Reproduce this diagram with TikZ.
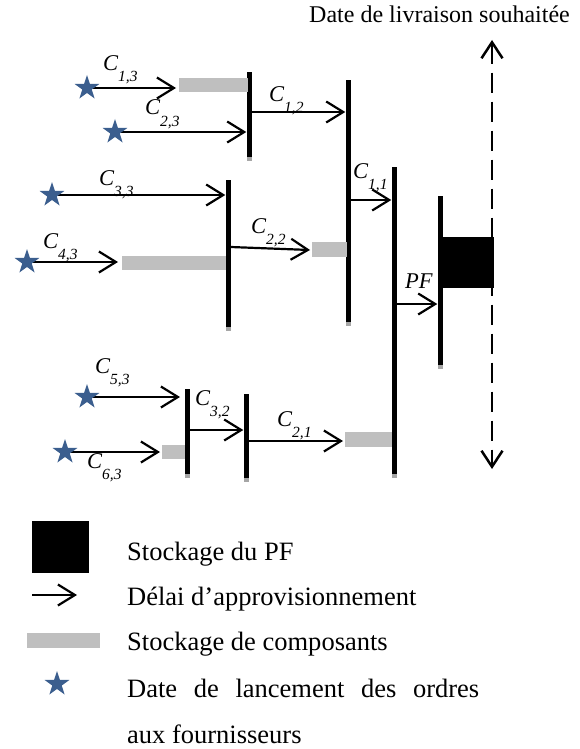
\documentclass[tikz,border=0pt]{standalone}
\usepackage{fontspec}
\setmainfont{Liberation Serif}
\usetikzlibrary{arrows.meta,shapes.geometric}
\definecolor{starblue}{HTML}{3B5E8E}
\definecolor{stockgray}{HTML}{BFBFBF}
\definecolor{tipgray}{HTML}{A6A6A6}
\newcommand{\clab}[1]{{\fontsize{22.5}{22}\selectfont\itshape C\raisebox{-11pt}{\fontsize{15.5}{15}\selectfont #1}}}
\newcommand{\vbarnode}[4]{%
  \node[barnode, minimum height={#4-#3}] (#1) at (#2,{(#3+#4)/2}) {};
  \fill[tipgray] (#2-2.5,#4) rectangle (#2+2.5,#4+3.5);}
\begin{document}
\begin{tikzpicture}[x=1pt,y=-1pt,
  arr/.style={line width=2.2pt,-{Straight Barb[length=17pt,width=21pt]}},
  barnode/.style={rectangle, fill=black, draw=none, inner sep=0pt, minimum width=5pt},
  stock/.style={rectangle, fill=stockgray, draw=none, inner sep=0pt},
  pfbox/.style={rectangle, fill=black, draw=none, inner sep=0pt},
  starnode/.style={star, star points=5, star point ratio=2.618, fill=starblue, draw=none, inner sep=0pt, minimum size=26pt},
  lab/.style={anchor=base west, inner sep=0pt},
  legtext/.style={anchor=base west, inner sep=0pt, font=\fontsize{26.5}{30}\selectfont},
  deadline/.style={line width=2.5pt, dash pattern=on 20pt off 9pt, {Straight Barb[length=16pt,width=21pt]}-{Straight Barb[length=16pt,width=21pt]}}
]
\useasboundingbox (0,0) rectangle (579,749);

% vertical bars
\vbarnode{b1}{249}{72}{157}
\vbarnode{b2}{348}{80}{322}
\vbarnode{b3}{394}{167}{474}
\vbarnode{b4}{440}{196}{365}
\vbarnode{b5}{228}{180}{327}
\vbarnode{b6}{187}{389}{474}
\vbarnode{b7}{246}{394}{478}

% component stocks
\node[stock, minimum width=69pt, minimum height=14pt] (g13) at (213.5,85) {};
\node[stock, minimum width=104pt, minimum height=14pt] (g43) at (174,263) {};
\node[stock, minimum width=35pt, minimum height=15pt] (g22) at (329.5,249.5) {};
\node[stock, minimum width=47pt, minimum height=15pt] (g21) at (368.5,439.5) {};
\node[stock, minimum width=23pt, minimum height=14pt] (g63) at (173.5,452) {};
% finished product stock
\node[pfbox, minimum width=52pt, minimum height=51pt] (pfs) at (468,262.5) {};

% level coordinates
\coordinate (e13) at (176,88);
\coordinate (y12) at (0,112);
\coordinate (y11) at (0,200);
\coordinate (e43) at (118,262);
\coordinate (y22) at (0,247);
\coordinate (e22) at (310,250);
\coordinate (yPF) at (0,304);
\coordinate (y21) at (0,441);
\coordinate (e21) at (343,441);
\coordinate (e53) at (180,397);
\coordinate (e63) at (160,452);
\coordinate (y32) at (0,430);
\coordinate (dtop) at (492,40);
\coordinate (dbot) at (492,469);

% stars (positions)
\coordinate (p13) at (87,88);
\coordinate (p23) at (115,132);
\coordinate (p33) at (52,195);
\coordinate (p43) at (27,262);
\coordinate (p53) at (87,397);
\coordinate (p63) at (65,452);

% arrows
\draw[arr] (p13) -- (e13);
\draw[arr] (p23) -- (b1.west |- p23);
\draw[arr] (b1.east |- y12) -- (b2.west |- y12);
\draw[arr] (b2.east |- y11) -- (b3.west |- y11);
\draw[arr] (p33) -- (b5.west |- p33);
\draw[arr] (p43) -- (e43);
\draw[arr] (b5.east |- y22) -- (e22);
\draw[arr] (b3.east |- yPF) -- (b4.west |- yPF);
\draw[arr] (b7.east |- y21) -- (e21);
\draw[arr] (p53) -- (e53);
\draw[arr] (p63) -- (e63);
\draw[arr] (b6.east |- y32) -- (b7.west |- y32);
\draw[deadline] (dtop) -- (dbot);

% stars
\node[starnode] (s13) at (p13) {};
\node[starnode] (s23) at (p23) {};
\node[starnode] (s33) at (p33) {};
\node[starnode] (s43) at (p43) {};
\node[starnode] (s53) at (p53) {};
\node[starnode] (s63) at (p63) {};

% labels
\node[lab] (l13) at (103,71) {\clab{1,3}};
\node[lab] (l23) at (145,115) {\clab{2,3}};
\node[lab] (l12) at (269,102) {\clab{1,2}};
\node[lab] (l33) at (99,185) {\clab{3,3}};
\node[lab] (l43) at (43,248) {\clab{4,3}};
\node[lab] (l22) at (251,233) {\clab{2,2}};
\node[lab] (l11) at (353,178) {\clab{1,1}};
\node[lab] (lpf) at (405,288) {\fontsize{22.5}{22}\selectfont\itshape PF};
\node[lab] (l53) at (95,373) {\clab{5,3}};
\node[lab] (l32) at (195,405) {\clab{3,2}};
\node[lab] (l21) at (277,426) {\clab{2,1}};
\node[lab] (l63) at (87,468) {\clab{6,3}};

% title
\node[lab, font=\fontsize{24}{28}\selectfont] (title) at (309,23) {Date de livraison souhaitée};

% legend
\node[pfbox, minimum width=57pt, minimum height=52pt] (legsq) at (60.5,547) {};
\coordinate (la1) at (32,595);
\coordinate (la2) at (77,595);
\draw[arr] (la1) -- (la2);
\node[stock, minimum width=73pt, minimum height=15pt] (leggray) at (63.5,640.5) {};
\node[starnode] (legstar) at (57,684) {};
\node[legtext] (t1) at (127,560) {Stockage du PF};
\node[legtext] (t2) at (127,605) {Délai d’approvisionnement};
\node[legtext] (t3) at (127,650) {Stockage de composants};
\node[legtext] (t4) at (127,697) {\makebox[352pt][s]{Date de lancement des ordres}};
\node[legtext] (t5) at (127,743) {aux fournisseurs};
\end{tikzpicture}
\end{document}
